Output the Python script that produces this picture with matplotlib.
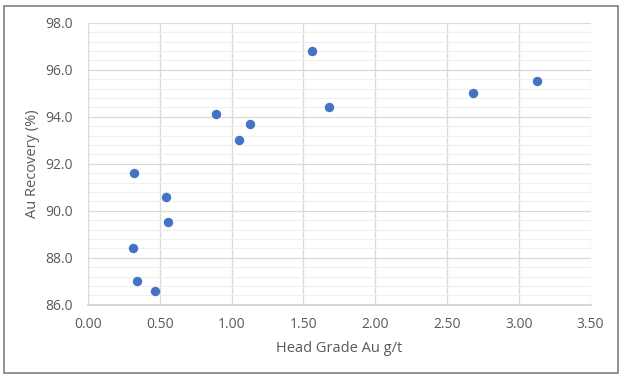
import numpy as np
import matplotlib.pyplot as plt
from matplotlib.patches import Rectangle
from matplotlib.ticker import MultipleLocator, FormatStrFormatter

# Head grade (g/t) vs Au recovery (%)
head_grade = [1.56, 0.89, 1.13, 1.05, 0.32, 1.68, 2.68, 3.13, 0.54, 0.56, 0.31, 0.34, 0.47]
recovery = [96.8, 94.1, 93.7, 93.0, 91.6, 94.4, 95.0, 95.5, 90.6, 89.5, 88.4, 87.0, 86.6]

plt.rcParams['font.family'] = ['Open Sans', 'DejaVu Sans']

fig = plt.figure(figsize=(6.25, 3.79), dpi=100)
ax = fig.add_axes([0.1408, 0.196, 0.804, 0.744])

ax.scatter(head_grade, recovery, s=46, color='#4472C4', zorder=3, linewidths=0)

ax.set_xlim(0, 3.5)
ax.set_ylim(86, 98)
ax.xaxis.set_major_locator(MultipleLocator(0.5))
ax.yaxis.set_major_locator(MultipleLocator(2))
ax.yaxis.set_minor_locator(MultipleLocator(0.4))
ax.xaxis.set_major_formatter(FormatStrFormatter('%.2f'))
ax.yaxis.set_major_formatter(FormatStrFormatter('%.1f'))

ax.grid(which='major', color='#d9d9d9', linewidth=0.9)
ax.grid(which='minor', axis='y', color='#efefef', linewidth=0.8)
ax.set_axisbelow(True)

for side in ['top', 'right']:
    ax.spines[side].set_visible(False)
ax.spines['left'].set_color('#d9d9d9')
ax.spines['bottom'].set_color('#d0d0d0')
ax.spines['bottom'].set_linewidth(1.2)

ax.tick_params(which='both', length=0, labelsize=10, colors='#595959')
ax.tick_params(axis='y', pad=11)
ax.tick_params(axis='x', pad=9)
ax.set_xlabel('Head Grade Au g/t', fontsize=10.5, color='#595959', labelpad=6)
ax.set_ylabel('Au Recovery (%)', fontsize=10.5, color='#595959', labelpad=4)

# outer frame of the chart area
fig.patches.append(Rectangle((0.006, 0.016), 0.983, 0.968, transform=fig.transFigure,
                             fill=False, edgecolor='#7f7f7f', linewidth=1.2))

fig.savefig('out.png', dpi=100)
